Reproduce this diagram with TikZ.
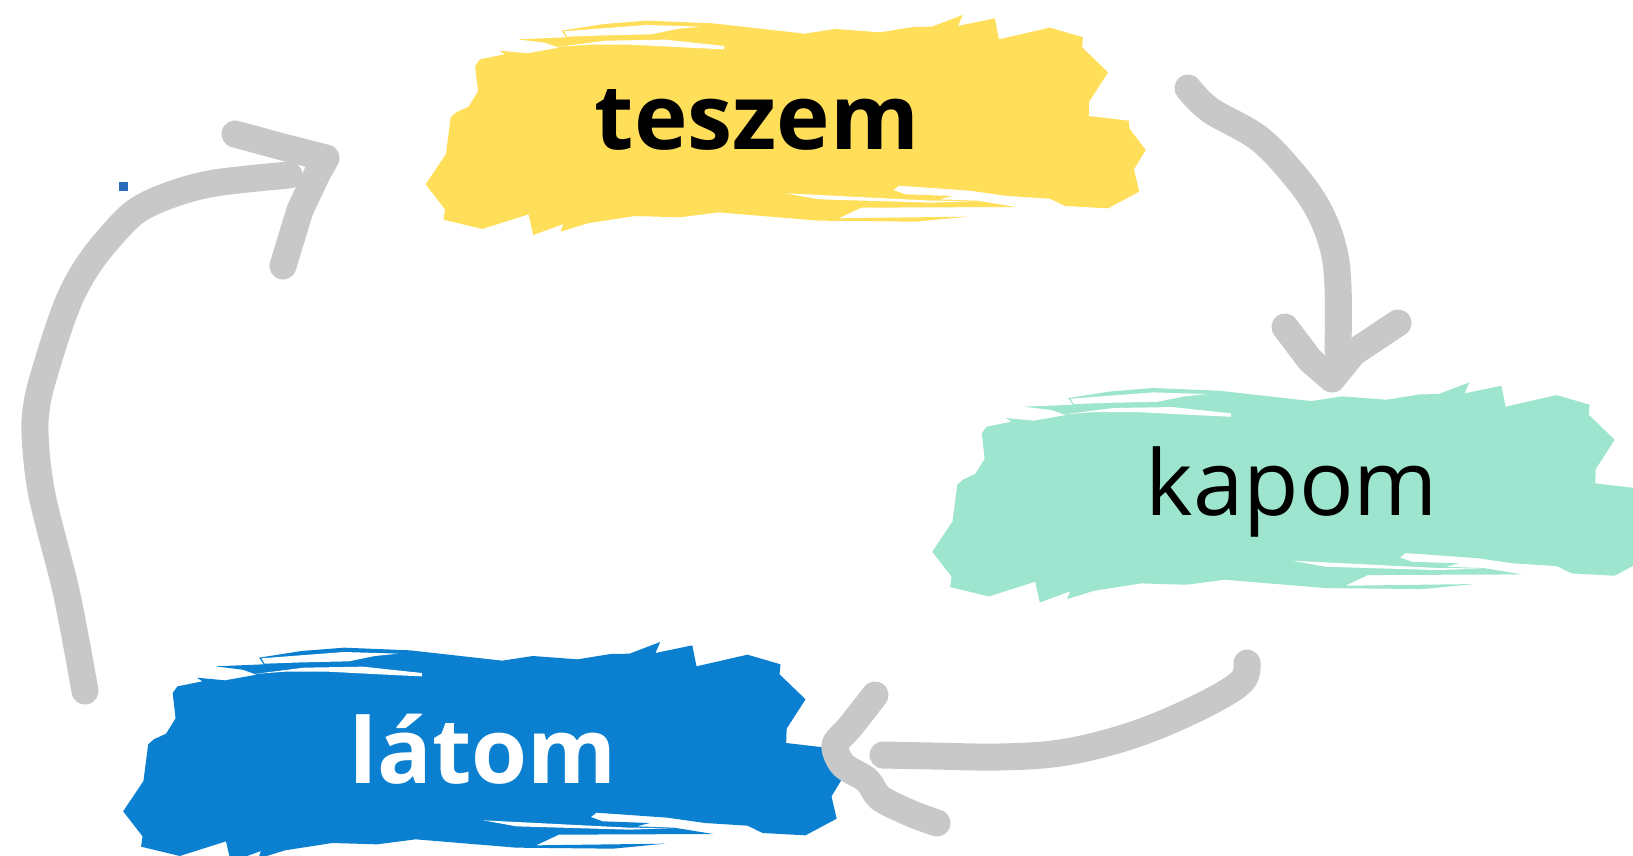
\documentclass[tikz,border=0pt]{standalone}
\usepackage{fontspec}
\setmainfont{Open Sans}
\definecolor{bYellow}{HTML}{FFDE59}
\definecolor{bGreen}{HTML}{9EE5CF}
\definecolor{bBlue}{HTML}{0B80D0}
\definecolor{arrowgray}{HTML}{C8C8C8}
\definecolor{dotblue}{HTML}{2A6CBA}
\newcommand\brushstamp[1]{%
  \fill[#1] (117,198) -- (127,178) -- (180,163) -- (168,152) -- (228,160) -- (295,143) -- (265,128) -- (207,118) -- (310,112) -- (300,92) -- (390,72) -- (480,62) -- (620,70) -- (815,101) -- (880,87) -- (975,97) -- (1045,81) -- (1085,80) -- (1150,45) -- (1140,78) -- (1218,55) -- (1227,118) -- (1335,83) -- (1405,112) -- (1403,142) -- (1458,217) -- (1418,305) -- (1417,348) -- (1502,362) -- (1503,385) -- (1538,450) -- (1513,508) -- (1524,575) -- (1458,625) -- (1367,618) -- (1335,596) -- (1245,588) -- (1165,572) -- (1015,557) -- (1003,570) -- (1028,583) -- (1128,588) -- (1100,598) -- (1180,602) -- (1262,621) -- (935,623) -- (887,655) -- (1160,650) -- (1050,665) -- (845,662) -- (632,637) -- (550,652) -- (455,648) -- (355,670) -- (298,695) -- (304,672) -- (240,705) -- (230,643) -- (132,687) -- (50,659) -- (53,628) -- (12,553) -- (55,462) -- (65,352) -- (77,337) -- (103,320) -- (123,274) -- cycle;
  \fill[white] (305,94) -- (480,75) -- (595,80) -- (545,87) -- (490,103) -- (395,106) -- (312,110) -- cycle;
  \fill[white] (290,141) -- (395,122) -- (520,119) -- (645,138) -- (645,148) -- (612,146) -- (445,134) -- (355,134) -- cycle;
  \fill[white] (775,580) -- (1085,602) -- (1180,603) -- (1085,608) -- (845,598) -- cycle;
}
\tikzset{
  arrowstroke/.style={draw=arrowgray, line width=13.5pt, line cap=round, line join=round},
  lbl/.style={anchor=base, inner sep=0pt, font=\fontsize{45.3}{50}\selectfont},
  lblbold/.style={anchor=base, inner sep=0pt, font=\fontsize{45.3}{50}\selectfont\bfseries},
  stampframe/.style={shift={(420,0)}, xscale=1/2.119, yscale=1/3},
}
\begin{document}
\begin{tikzpicture}[x=0.5pt,y=-0.5pt]
\useasboundingbox (0,0) rectangle (1633,856);
\fill[white] (0,0) rectangle (1633,856);
% brushes
\begin{scope}[stampframe]
  \brushstamp{bYellow}
\end{scope}
\begin{scope}[shift={(506.6,367.4)}]
  \begin{scope}[stampframe]
    \brushstamp{bGreen}
  \end{scope}
\end{scope}
\begin{scope}[shift={(-302.5,627)}]
  \begin{scope}[stampframe]
    \brushstamp{bBlue}
  \end{scope}
\end{scope}
% labels
\node[lblbold, text=black] (teszem) at (757,149) {teszem};
\node[lbl, text=black] (kapom) at (1292,515.7) {kapom};
\node[lblbold, text=white] (latom) at (483.3,783.3) {látom};
% small dot
\fill[dotblue] (119,181.5) rectangle (128,190.5);
% arrow 1: latom -> teszem
\coordinate (a1s) at (85,691);
\coordinate (a1e) at (289,175);
\draw[arrowstroke] plot[smooth, tension=0.55] coordinates {(a1s) (66.7,594) (42,495) (35,433) (38,398) (47,365) (58,330) (70,298) (85,270) (105,243) (135,212) (170,195) (215,183) (a1e)};
\coordinate (h1a) at (235,134);
\coordinate (h1b) at (283,266);
\draw[arrowstroke] plot[smooth, tension=0.4] coordinates {(h1a) (283,147) (326,158)} -- (318,172) -- (300,210) -- (h1b);
% arrow 2: teszem -> kapom
\coordinate (a2s) at (1188,88);
\coordinate (a2e) at (1338,350);
\draw[arrowstroke] plot[smooth, tension=0.6] coordinates {(a2s) (1210,110) (1257,137) (1290,170) (1317,207) (1333,247) (1338,287) (a2e)};
\coordinate (h2a) at (1285,327);
\coordinate (h2b) at (1398,323);
\draw[arrowstroke] (h2a) -- (1310,360) -- (1332,379) -- (1353,353) -- (h2b);
% arrow 3: kapom -> latom
\coordinate (a3s) at (1247,663);
\coordinate (a3e) at (883,755);
\draw[arrowstroke] plot[smooth, tension=0.6] coordinates {(a3s) (1243,680) (1217,698) (1167,722) (1117,740) (1060,753) (1000,757) (933,756) (a3e)};
\coordinate (h3a) at (875,695);
\coordinate (h3b) at (937,823);
\draw[arrowstroke] plot[smooth, tension=0.5] coordinates {(h3a) (850,727) (835,745) (843,765) (867,780) (880,798) (910,813) (h3b)};
\end{tikzpicture}
\end{document}
